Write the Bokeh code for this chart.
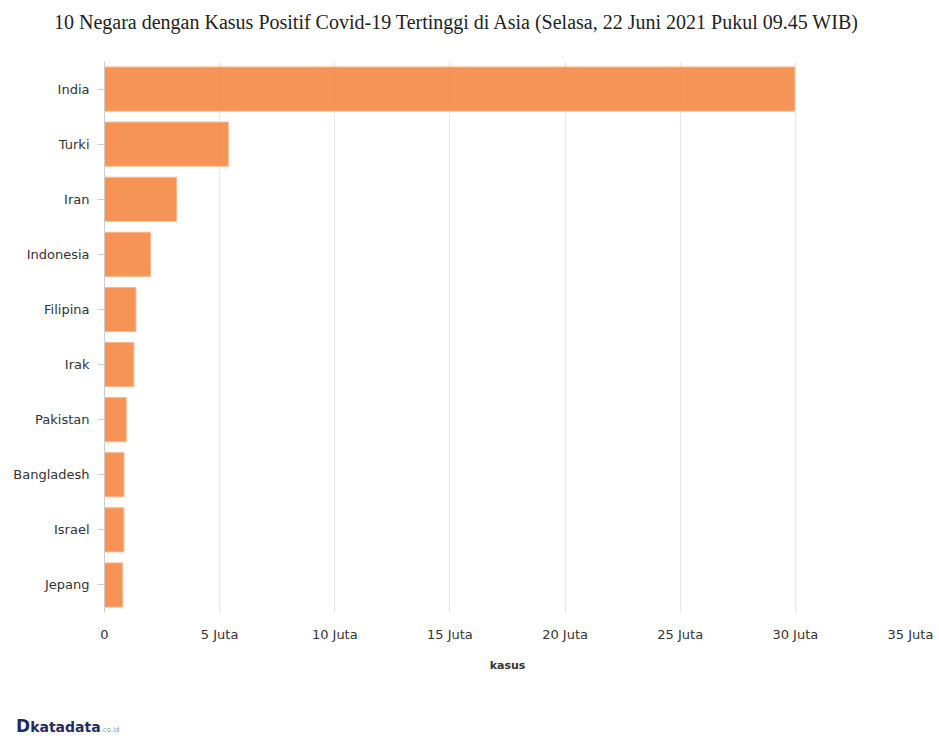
from bokeh.plotting import figure
from bokeh.models import FixedTicker, CustomJSTickFormatter, ColumnDataSource, Div
from bokeh.layouts import column
from bokeh.embed import file_html
from bokeh.resources import INLINE

countries = ["India", "Turki", "Iran", "Indonesia", "Filipina", "Irak",
             "Pakistan", "Bangladesh", "Israel", "Jepang"]
cases = [29977861, 5375593, 3128393, 2004445, 1364239, 1274838,
         948737, 846027, 840156, 788017]
x_ticks = [0, 5e6, 10e6, 15e6, 20e6, 25e6, 30e6, 35e6]
title_text = "10 Negara dengan Kasus Positif Covid-19 Tertinggi di Asia (Selasa, 22 Juni 2021 Pukul 09.45 WIB)"
x_label = "kasus"

src = ColumnDataSource(dict(country=countries, cases=cases))

W = 939
TITLE_H = 44
L, R, T, B = 104, 29, 17, 98

title = Div(text=('<div style="white-space:nowrap;font-family:\'Liberation Serif\';font-size:20px;'
                  'color:#222222;line-height:44px;padding-left:54px;">' + title_text + '</div>'),
            width=W, height=TITLE_H, margin=(0, 0, 0, 0))

p = figure(width=W, height=T + 551 + B, y_range=list(reversed(countries)), x_range=(0, 35e6),
           output_backend="svg", toolbar_location=None,
           min_border_left=L, min_border_right=R, min_border_top=T, min_border_bottom=B)
p.outline_line_color = None
p.background_fill_color = "white"
p.border_fill_color = "white"

p.hbar(y="country", right="cases", left=0, height=0.8, source=src,
       fill_color="#F58B4A", fill_alpha=0.92, line_color="#F9B68C", line_width=1)

p.xaxis.ticker = FixedTicker(ticks=x_ticks)
p.xaxis.formatter = CustomJSTickFormatter(code="return tick == 0 ? '0' : (tick/1e6) + ' Juta';")
p.xaxis.axis_line_color = None
p.xaxis.major_tick_line_color = None
p.xaxis.minor_tick_line_color = None
p.xaxis.major_tick_in = 0
p.xaxis.major_tick_out = 0
p.xaxis.major_label_text_font = "DejaVu Sans"
p.xaxis.major_label_text_font_size = "13px"
p.xaxis.major_label_text_color = "#333333"
p.xaxis.major_label_standoff = 14
p.xaxis.axis_label = x_label
p.xaxis.axis_label_text_font = "DejaVu Sans"
p.xaxis.axis_label_text_font_style = "bold"
p.xaxis.axis_label_text_font_size = "11px"
p.xaxis.axis_label_text_color = "#333333"
p.xaxis.axis_label_standoff = 14

p.yaxis.axis_line_color = "#cccccc"
p.yaxis.major_tick_line_color = "#cccccc"
p.yaxis.major_tick_in = 0
p.yaxis.major_tick_out = 7
p.yaxis.major_label_standoff = 8
p.yaxis.major_label_text_font = "DejaVu Sans"
p.yaxis.major_label_text_font_size = "13px"
p.yaxis.major_label_text_color = "#333333"

p.xgrid.grid_line_color = "#e6e6e6"
p.xgrid.ticker = FixedTicker(ticks=x_ticks)
p.ygrid.grid_line_color = None

logo = Div(text=('<div style="white-space:nowrap;line-height:16px;">'
                 '<span style="font-family:\'DejaVu Sans\';font-weight:bold;font-size:17px;color:#1f2d5c;">D</span>'
                 '<span style="font-family:\'DejaVu Sans\';font-weight:bold;font-size:14px;color:#1f2d5c;">katadata</span>'
                 '<span style="font-family:\'DejaVu Sans\';font-size:7px;color:#8a93ad;">.co.id</span></div>'),
           width=200, height=18, margin=(8, 0, 0, 16))

layout = column(title, p, logo, spacing=0)
open("out.html", "w").write(file_html(layout, INLINE))
